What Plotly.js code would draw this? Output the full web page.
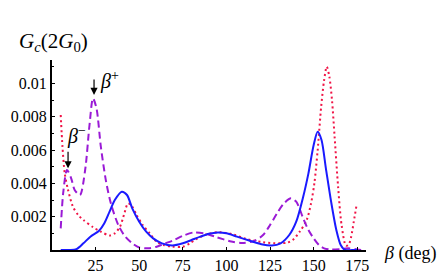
<!DOCTYPE html>
<html>
<head>
<meta charset="utf-8">
<script src="https://cdn.plot.ly/plotly-3.0.1.min.js"></script>
<style>html,body{margin:0;padding:0;background:#fff;}#chart{width:443px;height:280px;}</style>
</head>
<body>
<div id="chart"></div>
<script>
// Angle β (deg) and conductance G_c (units of 2G_0) for three curves
const betaBlue = [5, 10, 14, 18, 22, 27, 30, 33, 36, 40, 43, 46, 50, 54, 58, 63, 69, 75, 80, 85, 90, 95, 100, 106, 113, 120, 126, 131, 136, 140, 144, 147, 150, 152.3, 154.5, 157, 160, 163, 165.5, 168, 172, 175];
const gBlue    = [0, 0, 0.00005, 0.0004, 0.0008, 0.00115, 0.0016, 0.0023, 0.0030, 0.0035, 0.0033, 0.0025, 0.0017, 0.0011, 0.0007, 0.0004, 0.00027, 0.0004, 0.0006, 0.0008, 0.00097, 0.00105, 0.001, 0.0008, 0.00057, 0.00035, 0.00027, 0.0004, 0.0009, 0.0017, 0.0032, 0.0046, 0.0063, 0.0071, 0.0066, 0.0049, 0.0029, 0.0012, 0.0003, 0, 0, 0];

const betaPurple = [5, 6.5, 8.6, 11, 13, 16, 19, 21.5, 23.5, 25.5, 28, 31, 34, 38, 42, 46, 50, 55, 60, 65, 70, 75, 81, 87, 94, 102, 109, 116, 121, 125, 129, 133, 137, 140, 144, 147, 150, 153, 156, 160, 165, 170, 175, 178];
const gPurple    = [0.0013, 0.0035, 0.0048, 0.0043, 0.0036, 0.0033, 0.0048, 0.0075, 0.0091, 0.0085, 0.0062, 0.0041, 0.0027, 0.0015, 0.0008, 0.0004, 0.00015, 0.0001, 0.0002, 0.0004, 0.0006, 0.00085, 0.00105, 0.001, 0.00078, 0.00053, 0.00042, 0.00055, 0.0009, 0.0015, 0.0022, 0.0028, 0.0031, 0.0029, 0.0019, 0.0012, 0.0007, 0.0003, 0.0001, 0.00003, 0.00005, 0.0001, 0.00003, 0];

const betaRed = [5, 6, 7.3, 9.2, 12, 15, 18, 23.5, 28, 33, 36, 39, 41.5, 43.6, 46, 48.5, 52, 56, 60, 64, 69, 75, 79, 83, 89, 96, 104, 111, 121, 130, 135, 138, 142, 146, 148.5, 150.4, 152.3, 154.3, 156, 157.5, 159, 160.5, 162, 164, 166, 168.5, 170, 171.5, 173, 174.6];
const gRed    = [0.0081, 0.0062, 0.0046, 0.0036, 0.0026, 0.0021, 0.0018, 0.00137, 0.0011, 0.00087, 0.001, 0.0014, 0.0022, 0.0028, 0.0026, 0.0021, 0.0015, 0.001, 0.0005, 0.0003, 0.0002, 0.0002, 0.0004, 0.00067, 0.00095, 0.00107, 0.00093, 0.00067, 0.00047, 0.0004, 0.00045, 0.0006, 0.0011, 0.0018, 0.0028, 0.004, 0.006, 0.0086, 0.0102, 0.011, 0.0104, 0.009, 0.0068, 0.0038, 0.0015, 0.00027, 0.0003, 0.0008, 0.0017, 0.0027];

const xTicks = [25, 50, 75, 100, 125, 150, 175];
const yTicks = [0.002, 0.004, 0.006, 0.008, 0.01];
const yTickText = ['0.002', '0.004', '0.006', '0.008', '0.01'];

const serif = 'Liberation Serif';

const traces = [
  {x: betaRed, y: gRed, mode: 'lines', line: {color: '#f01446', width: 2, dash: '2px,3px', shape: 'spline', smoothing: 0.8}, hoverinfo: 'skip'},
  {x: betaPurple, y: gPurple, mode: 'lines', line: {color: '#9a1ad6', width: 2, dash: '7px,4px', shape: 'spline', smoothing: 0.8}, hoverinfo: 'skip'},
  {x: betaBlue, y: gBlue, mode: 'lines', line: {color: '#1a1aff', width: 2, shape: 'spline', smoothing: 0.8}, hoverinfo: 'skip'}
];

const layout = {
  width: 443, height: 280,
  margin: {l: 52, r: 77, t: 60, b: 30, pad: 0},
  paper_bgcolor: '#fff', plot_bgcolor: '#fff',
  showlegend: false,
  font: {family: serif, size: 16, color: '#000'},
  xaxis: {
    range: [0, 180], showgrid: false, zeroline: false,
    showline: true, linewidth: 2, linecolor: '#000',
    ticks: 'inside', ticklen: 3, tickwidth: 1, tickcolor: '#000',
    tickvals: xTicks, tickfont: {family: serif, size: 16, color: '#000'}
  },
  yaxis: {
    range: [0, 0.0114], showgrid: false, zeroline: false,
    showline: true, linewidth: 2, linecolor: '#000',
    ticks: 'inside', ticklen: 3, tickwidth: 1, tickcolor: '#000',
    tickvals: yTicks, ticktext: yTickText,
    tickfont: {family: serif, size: 16, color: '#000'},
    minor: {ticks: 'inside', ticklen: 2, tickcolor: '#000', dtick: 0.001, tick0: 0}
  },
  annotations: [
    {xref: 'paper', yref: 'paper', x: -0.11, y: 1.095, xanchor: 'left', yanchor: 'middle', showarrow: false,
     text: '<i>G</i><sub><i>c</i></sub>(2<i>G</i><sub>0</sub>)', font: {family: serif, size: 21, color: '#000'}},
    {xref: 'paper', yref: 'paper', x: 1.05, y: -0.016, xanchor: 'left', yanchor: 'middle', showarrow: false,
     text: '<i>β</i> (deg)', font: {family: serif, size: 18, color: '#000'}},
    {xref: 'x', yref: 'y', x: 26.2, y: 0.0102, xanchor: 'left', yanchor: 'middle', showarrow: false,
     text: '<i>β</i><sup>+</sup>', font: {family: serif, size: 20, color: '#000'}},
    {xref: 'x', yref: 'y', x: 7.3, y: 0.0069, xanchor: 'left', yanchor: 'middle', showarrow: false,
     text: '<i>β</i><sup>−</sup>', font: {family: serif, size: 20, color: '#000'}},
    {xref: 'x', yref: 'y', x: 24.1, y: 0.0093, text: '', showarrow: true, ax: 0, ay: -17,
     arrowhead: 2, arrowsize: 1.2, arrowwidth: 1.2, arrowcolor: '#000'},
    {xref: 'x', yref: 'y', x: 9.2, y: 0.0049, text: '', showarrow: true, ax: 0, ay: -18,
     arrowhead: 2, arrowsize: 1.2, arrowwidth: 1.2, arrowcolor: '#000'}
  ]
};

Plotly.newPlot('chart', traces, layout, {displayModeBar: false, staticPlot: true});
</script>
</body>
</html>
